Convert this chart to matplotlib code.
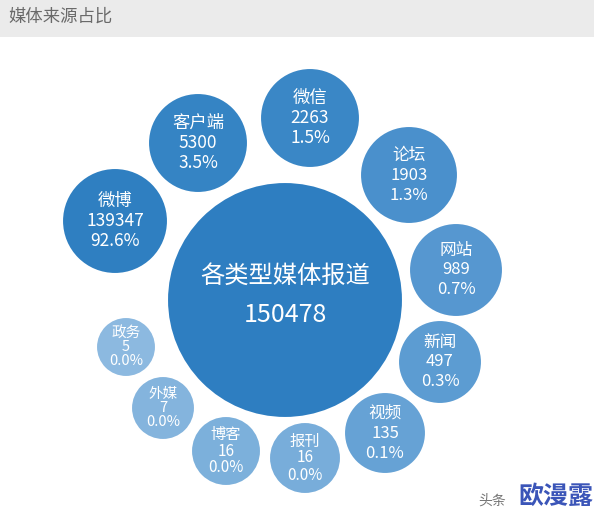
import matplotlib
matplotlib.use("Agg")
import matplotlib.pyplot as plt
from matplotlib.patches import Circle, Rectangle

plt.rcParams['font.family'] = ['Noto Sans CJK SC', 'DejaVu Sans']

# ---- data ----
title = "媒体来源占比"
center_label = "各类型媒体报道"
total = 150478
categories = ["微博", "客户端", "微信", "论坛", "网站", "新闻", "视频", "报刊", "博客", "外媒", "政务"]
counts = [139347, 5300, 2263, 1903, 989, 497, 135, 16, 16, 7, 5]
shares = [92.6, 3.5, 1.5, 1.3, 0.7, 0.3, 0.1, 0.0, 0.0, 0.0, 0.0]

# ---- layout (pixel space of a 594x519 canvas) ----
W, H = 594, 519
center_pos = (285, 300)
center_r = 118
bubble_pos = [(115, 221), (198, 143), (310, 118), (409, 175), (456, 270),
              (440, 362), (385, 433), (305, 458), (226, 451), (163, 408), (126, 347)]
bubble_r = [53, 50, 50, 49, 47, 42, 41, 36, 35, 32, 30]
bubble_col = ["#2F7FC1", "#3584C4", "#3A87C6", "#4A90CC", "#5697D0", "#5C9CD2",
              "#66A2D5", "#78ADDA", "#7CB0DB", "#84B4DD", "#8CB9E0"]
center_col = "#2E7EC1"
font_sz = [12.5, 12.5, 12.5, 12, 12, 12, 12, 11, 11, 10.5, 10.5]
line_gap = [20, 20, 20, 20, 20, 20, 20, 17, 17, 14, 14]

fig = plt.figure(figsize=(W / 100, H / 100), dpi=100)
ax = fig.add_axes([0, 0, 1, 1])
ax.set_xlim(0, W)
ax.set_ylim(H, 0)
ax.set_aspect('equal')
ax.axis('off')

# title bar
ax.add_patch(Rectangle((0, 0), W, 37, facecolor="#EBEBEB", edgecolor="none"))
ax.text(8, 17, title, fontsize=12.5, color="#6A6A6A", va="center", ha="left")

# center bubble
ax.add_patch(Circle(center_pos, center_r, facecolor=center_col, edgecolor="white", linewidth=1.5))
ax.text(center_pos[0], center_pos[1] - 24, center_label, fontsize=17.5, color="white",
        ha="center", va="center")
ax.text(center_pos[0], center_pos[1] + 15, f"{total}", fontsize=18, color="white",
        ha="center", va="center")

for cat, n, s, (x, y), r, c, fs, g in zip(categories, counts, shares, bubble_pos,
                                           bubble_r, bubble_col, font_sz, line_gap):
    ax.add_patch(Circle((x, y), r, facecolor=c, edgecolor="white", linewidth=1.5))
    for k, t in enumerate([cat, f"{n}", f"{s:.1f}%"]):
        ax.text(x, y + (k - 1) * g, t, fontsize=fs, color="white", ha="center", va="center")

# watermark
ax.text(478, 501, "头条", fontsize=10, color="#555555", ha="left", va="center", alpha=0.8)
ax.text(556, 497, "欧漫露", fontsize=18, color="#3B55B8", ha="center", va="center",
        fontweight="bold")

fig.savefig("out.png", dpi=100)
